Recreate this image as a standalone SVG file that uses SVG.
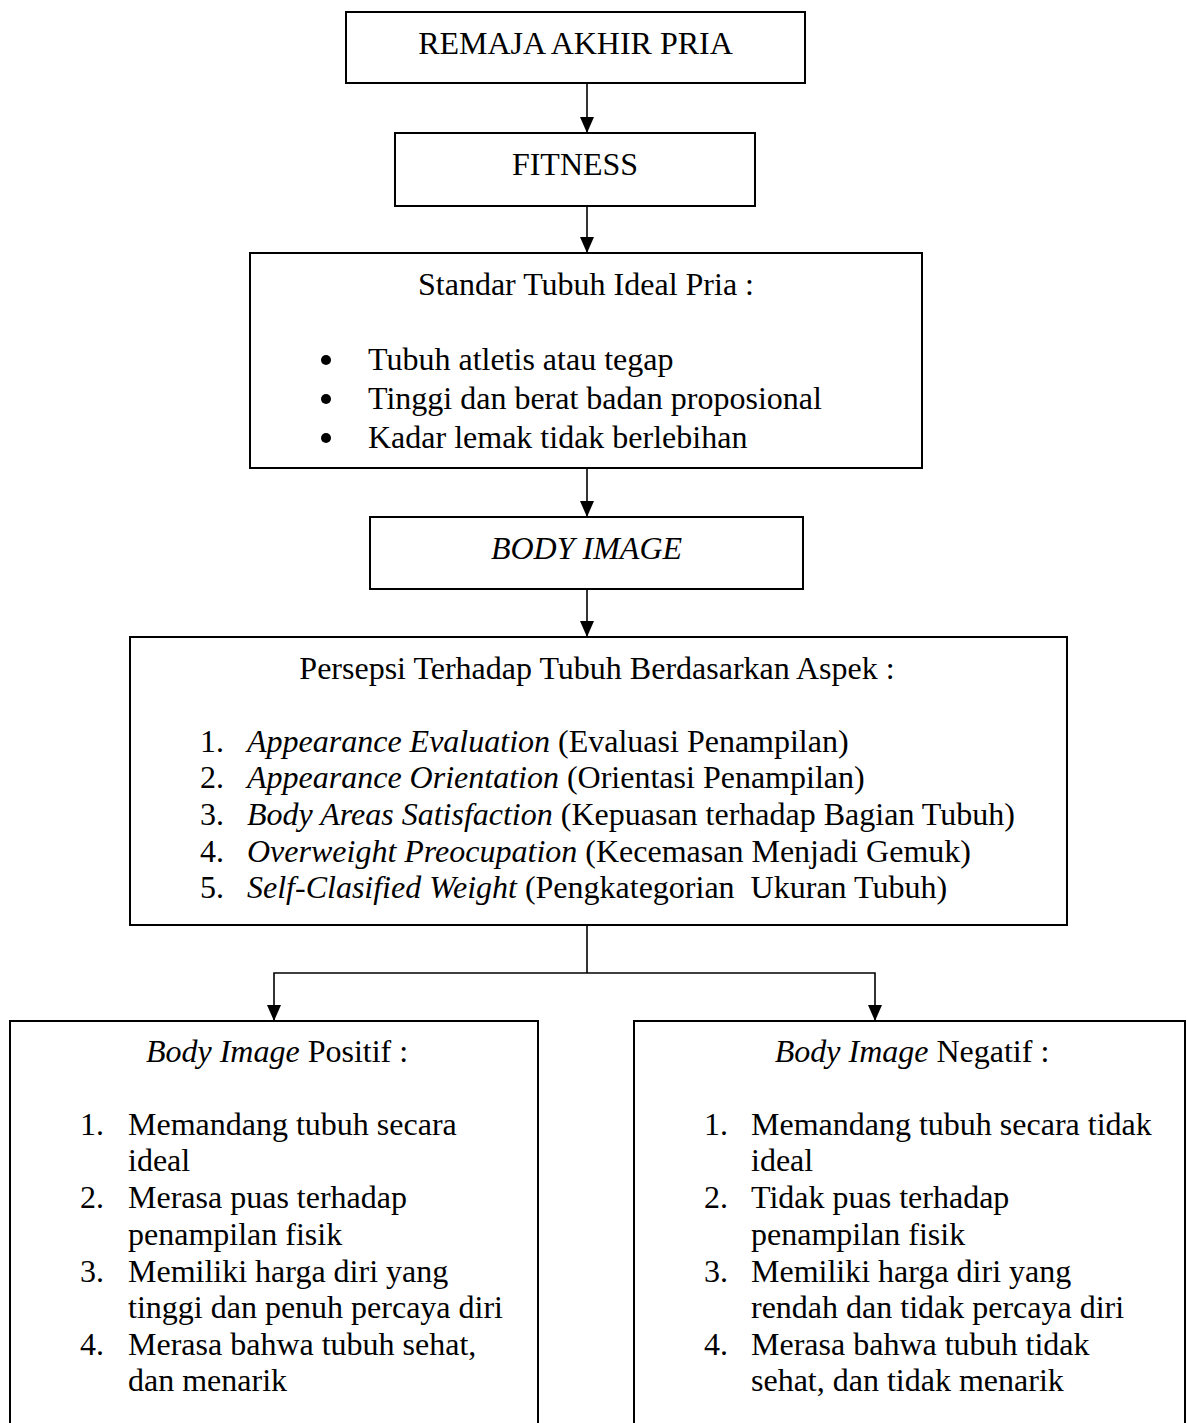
<svg xmlns="http://www.w3.org/2000/svg" width="1187" height="1423" viewBox="0 0 1187 1423">
<style>
  .box { fill: #ffffff; stroke: #000000; stroke-width: 2; }
  .conn { fill: none; stroke: #000000; stroke-width: 1.6; }
  text { font-family: "Liberation Serif", "Times New Roman", serif; font-size: 32px; fill: #000000; }
  .c { text-anchor: middle; }
  .i { font-style: italic; }
  .bul { fill: #000000; }
</style>
<defs>
  <marker id="arr" markerUnits="userSpaceOnUse" markerWidth="16" markerHeight="14" viewBox="0 0 16 14" refX="16" refY="7" orient="auto">
    <path d="M0,0 L16,7 L0,14 z" fill="#000000"/>
  </marker>
</defs>
<rect x="0" y="0" width="1187" height="1423" fill="#ffffff"/>

<g id="connectors">
  <line class="conn" x1="587" y1="83" x2="587" y2="133" marker-end="url(#arr)"/>
  <line class="conn" x1="587" y1="206" x2="587" y2="253" marker-end="url(#arr)"/>
  <line class="conn" x1="587" y1="468" x2="587" y2="517" marker-end="url(#arr)"/>
  <line class="conn" x1="587" y1="589" x2="587" y2="637" marker-end="url(#arr)"/>
  <line class="conn" x1="587" y1="925" x2="587" y2="973"/>
  <polyline class="conn" points="587,973 274,973 274,1021" marker-end="url(#arr)"/>
  <polyline class="conn" points="587,973 875,973 875,1021" marker-end="url(#arr)"/>
</g>

<g id="node-remaja">
  <rect class="box" x="346" y="12" width="459" height="71"/>
  <text class="c" x="575.5" y="54">REMAJA AKHIR PRIA</text>
</g>

<g id="node-fitness">
  <rect class="box" x="395" y="133" width="360" height="73"/>
  <text class="c" x="575" y="175">FITNESS</text>
</g>

<g id="node-standar">
  <rect class="box" x="250" y="253" width="672" height="215"/>
  <text class="c" x="586" y="295">Standar Tubuh Ideal Pria :</text>
  <circle class="bul" cx="326" cy="360" r="5"/>
  <text x="368" y="370">Tubuh atletis atau tegap</text>
  <circle class="bul" cx="326" cy="399" r="5"/>
  <text x="368" y="409">Tinggi dan berat badan proposional</text>
  <circle class="bul" cx="326" cy="438" r="5"/>
  <text x="368" y="448">Kadar lemak tidak berlebihan</text>
</g>

<g id="node-bodyimage">
  <rect class="box" x="370" y="517" width="433" height="72"/>
  <text class="c i" x="586.5" y="559">BODY IMAGE</text>
</g>

<g id="node-persepsi">
  <rect class="box" x="130" y="637" width="937" height="288"/>
  <text class="c" x="597" y="679">Persepsi Terhadap Tubuh Berdasarkan Aspek :</text>
  <text x="200" y="752">1.</text>
  <text x="247" y="752"><tspan class="i">Appearance Evaluation</tspan> (Evaluasi Penampilan)</text>
  <text x="200" y="788">2.</text>
  <text x="247" y="788"><tspan class="i">Appearance Orientation</tspan> (Orientasi Penampilan)</text>
  <text x="200" y="825">3.</text>
  <text x="247" y="825"><tspan class="i">Body Areas Satisfaction</tspan> (Kepuasan terhadap Bagian Tubuh)</text>
  <text x="200" y="862">4.</text>
  <text x="247" y="862"><tspan class="i">Overweight Preocupation</tspan> (Kecemasan Menjadi Gemuk)</text>
  <text x="200" y="898">5.</text>
  <text x="247" y="898" xml:space="preserve"><tspan class="i">Self-Clasified Weight</tspan> (Pengkategorian  Ukuran Tubuh)</text>
</g>

<g id="node-positif">
  <rect class="box" x="10" y="1021" width="528" height="420"/>
  <text class="c" x="277" y="1062"><tspan class="i">Body Image</tspan> Positif :</text>
  <text x="80" y="1135">1.</text>
  <text x="128" y="1135">Memandang tubuh secara</text>
  <text x="128" y="1171">ideal</text>
  <text x="80" y="1208">2.</text>
  <text x="128" y="1208">Merasa puas terhadap</text>
  <text x="128" y="1245">penampilan fisik</text>
  <text x="80" y="1282">3.</text>
  <text x="128" y="1282">Memiliki harga diri yang</text>
  <text x="128" y="1318">tinggi dan penuh percaya diri</text>
  <text x="80" y="1355">4.</text>
  <text x="128" y="1355">Merasa bahwa tubuh sehat,</text>
  <text x="128" y="1391">dan menarik</text>
</g>

<g id="node-negatif">
  <rect class="box" x="634" y="1021" width="551" height="420"/>
  <text class="c" x="912" y="1062"><tspan class="i">Body Image</tspan> Negatif :</text>
  <text x="704" y="1135">1.</text>
  <text x="751" y="1135">Memandang tubuh secara tidak</text>
  <text x="751" y="1171">ideal</text>
  <text x="704" y="1208">2.</text>
  <text x="751" y="1208">Tidak puas terhadap</text>
  <text x="751" y="1245">penampilan fisik</text>
  <text x="704" y="1282">3.</text>
  <text x="751" y="1282">Memiliki harga diri yang</text>
  <text x="751" y="1318">rendah dan tidak percaya diri</text>
  <text x="704" y="1355">4.</text>
  <text x="751" y="1355">Merasa bahwa tubuh tidak</text>
  <text x="751" y="1391">sehat, dan tidak menarik</text>
</g>
</svg>
